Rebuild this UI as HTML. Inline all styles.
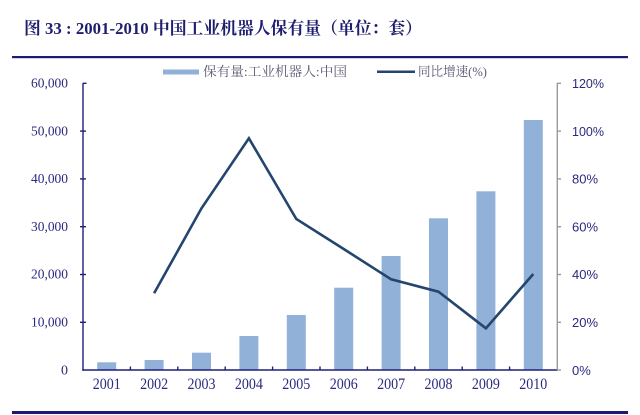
<!DOCTYPE html>
<html>
<head>
<meta charset="utf-8">
<style>
html,body{margin:0;padding:0;background:#fff;}
svg{display:block;}
</style>
</head>
<body>
<svg width="640" height="415" viewBox="0 0 640 415" xmlns="http://www.w3.org/2000/svg">
  <!-- Title -->
  <text x="24" y="34" font-family="'Liberation Serif','Noto Serif CJK SC',serif" font-weight="bold" font-size="17" fill="#1e1e6e" textLength="398" lengthAdjust="spacingAndGlyphs">图 33 : 2001-2010 中国工业机器人保有量（单位：套）</text>
  <!-- top rule -->
  <rect x="12" y="56" width="616" height="2.2" fill="#1f1a78"/>
  <!-- bottom rule -->
  <rect x="12" y="411" width="616" height="3" fill="#1f1a78"/>

  <!-- Legend -->
  <rect x="163" y="69.5" width="36" height="5" fill="#92b1d9"/>
  <text x="203" y="76" font-family="'Liberation Serif','Noto Serif CJK SC',serif" font-size="13" fill="#5a5a72" textLength="144" lengthAdjust="spacingAndGlyphs">保有量:工业机器人:中国</text>
  <rect x="377" y="70.5" width="38" height="2.5" fill="#24456e"/>
  <text x="418" y="76" font-family="'Liberation Serif','Noto Serif CJK SC',serif" font-size="13" fill="#5a5a72" textLength="69" lengthAdjust="spacingAndGlyphs">同比增速(%)</text>

  <!-- Bars -->
  <g fill="#92b1d9">
    <rect x="97.2" y="362.3" width="19" height="7.7"/>
    <rect x="144.6" y="360" width="19" height="10"/>
    <rect x="192" y="352.7" width="19" height="17.3"/>
    <rect x="239.4" y="336" width="19" height="34"/>
    <rect x="286.8" y="315" width="19" height="55"/>
    <rect x="334.2" y="287.7" width="19" height="82.3"/>
    <rect x="381.6" y="256" width="19" height="114"/>
    <rect x="429" y="218.3" width="19" height="151.7"/>
    <rect x="476.4" y="191.3" width="19" height="178.7"/>
    <rect x="523.8" y="120" width="19" height="250"/>
  </g>

  <!-- Left axis -->
  <g stroke="#1f1f7a" stroke-width="1.4">
    <line x1="83" y1="83" x2="83" y2="370.7"/>
    <line x1="83" y1="83.3" x2="86.5" y2="83.3"/>
    <line x1="80" y1="131.1" x2="86" y2="131.1"/>
    <line x1="80" y1="178.9" x2="86" y2="178.9"/>
    <line x1="80" y1="226.7" x2="86" y2="226.7"/>
    <line x1="80" y1="274.5" x2="86" y2="274.5"/>
    <line x1="80" y1="322.3" x2="86" y2="322.3"/>
    <!-- bottom axis -->
    <line x1="82.3" y1="370" x2="558" y2="370"/>
    <line x1="130.4" y1="366.5" x2="130.4" y2="370"/>
    <line x1="177.8" y1="366.5" x2="177.8" y2="370"/>
    <line x1="225.2" y1="366.5" x2="225.2" y2="370"/>
    <line x1="272.6" y1="366.5" x2="272.6" y2="370"/>
    <line x1="320" y1="366.5" x2="320" y2="370"/>
    <line x1="367.4" y1="366.5" x2="367.4" y2="370"/>
    <line x1="414.8" y1="366.5" x2="414.8" y2="370"/>
    <line x1="462.2" y1="366.5" x2="462.2" y2="370"/>
    <line x1="509.6" y1="366.5" x2="509.6" y2="370"/>
  </g>

  <!-- Right axis -->
  <g stroke="#9a9a9a" stroke-width="1.4">
    <line x1="557.3" y1="83" x2="557.3" y2="370"/>
    <line x1="557" y1="83.3" x2="561" y2="83.3"/>
    <line x1="557" y1="131.1" x2="561" y2="131.1"/>
    <line x1="557" y1="178.9" x2="561" y2="178.9"/>
    <line x1="557" y1="226.7" x2="561" y2="226.7"/>
    <line x1="557" y1="274.5" x2="561" y2="274.5"/>
    <line x1="557" y1="322.3" x2="561" y2="322.3"/>
    <line x1="557" y1="370" x2="561" y2="370"/>
  </g>

  <!-- Left labels -->
  <g font-family="'Liberation Serif',serif" font-size="14" fill="#2a2a80" text-anchor="end">
    <text x="68" y="87.5" textLength="37" lengthAdjust="spacingAndGlyphs">60,000</text>
    <text x="68" y="135.3" textLength="37" lengthAdjust="spacingAndGlyphs">50,000</text>
    <text x="68" y="183.1" textLength="37" lengthAdjust="spacingAndGlyphs">40,000</text>
    <text x="68" y="230.9" textLength="37" lengthAdjust="spacingAndGlyphs">30,000</text>
    <text x="68" y="278.7" textLength="37" lengthAdjust="spacingAndGlyphs">20,000</text>
    <text x="68" y="326.5" textLength="37" lengthAdjust="spacingAndGlyphs">10,000</text>
    <text x="68" y="374.3">0</text>
  </g>

  <!-- Right labels -->
  <g font-family="'Liberation Sans',sans-serif" font-size="13" fill="#2a2a80">
    <text x="572" y="88" textLength="32" lengthAdjust="spacingAndGlyphs">120%</text>
    <text x="572" y="135.8" textLength="32" lengthAdjust="spacingAndGlyphs">100%</text>
    <text x="572" y="183.6">80%</text>
    <text x="572" y="231.4">60%</text>
    <text x="572" y="279.2">40%</text>
    <text x="572" y="327">20%</text>
    <text x="572" y="374.8">0%</text>
  </g>

  <!-- X labels -->
  <g font-family="'Liberation Serif',serif" font-size="16" fill="#2a2a80" text-anchor="middle">
    <text x="106.7" y="389" textLength="28" lengthAdjust="spacingAndGlyphs">2001</text>
    <text x="154.1" y="389" textLength="28" lengthAdjust="spacingAndGlyphs">2002</text>
    <text x="201.5" y="389" textLength="28" lengthAdjust="spacingAndGlyphs">2003</text>
    <text x="248.9" y="389" textLength="28" lengthAdjust="spacingAndGlyphs">2004</text>
    <text x="296.3" y="389" textLength="28" lengthAdjust="spacingAndGlyphs">2005</text>
    <text x="343.7" y="389" textLength="28" lengthAdjust="spacingAndGlyphs">2006</text>
    <text x="391.1" y="389" textLength="28" lengthAdjust="spacingAndGlyphs">2007</text>
    <text x="438.5" y="389" textLength="28" lengthAdjust="spacingAndGlyphs">2008</text>
    <text x="485.9" y="389" textLength="28" lengthAdjust="spacingAndGlyphs">2009</text>
    <text x="533.3" y="389" textLength="28" lengthAdjust="spacingAndGlyphs">2010</text>
  </g>

  <!-- Line -->
  <polyline fill="none" stroke="#24456e" stroke-width="2.6" stroke-linejoin="miter"
    points="154.1,293.3 201.5,208.3 248.9,138.3 296.3,219 343.7,249 391.1,279.3 438.5,291.7 485.9,328.3 533.3,274"/>
</svg>
</body>
</html>
